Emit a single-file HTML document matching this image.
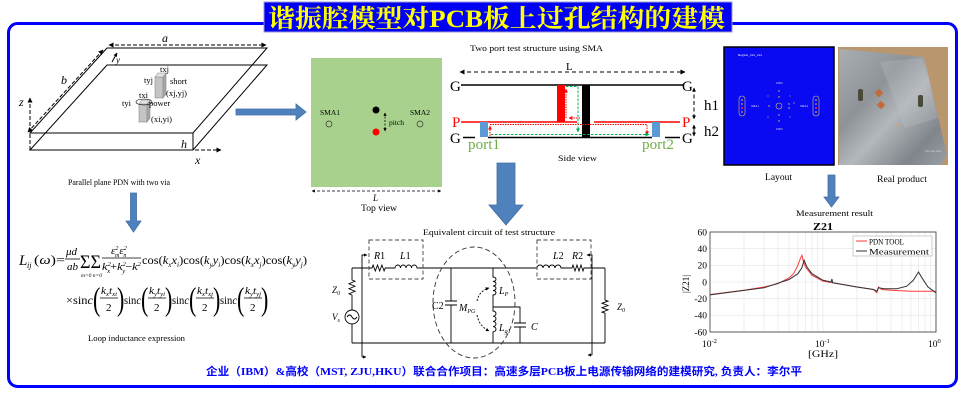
<!DOCTYPE html>
<html><head><meta charset="utf-8">
<style>
html,body{margin:0;padding:0;background:#fff;}
svg{display:block;}
</style></head><body>
<svg width="970" height="417" viewBox="0 0 970 417" xmlns="http://www.w3.org/2000/svg" font-family="'Liberation Serif', 'Noto Serif CJK SC', serif">
<defs>
<marker id="mk" viewBox="0 0 10 10" refX="9" refY="5" markerWidth="5" markerHeight="5" orient="auto-start-reverse"><path d="M0,0 L10,5 L0,10 z" fill="#000"/></marker>
<marker id="mks" viewBox="0 0 10 10" refX="9" refY="5" markerWidth="4" markerHeight="4" orient="auto-start-reverse"><path d="M0,0 L10,5 L0,10 z" fill="#000"/></marker>
<marker id="mr" viewBox="0 0 10 10" refX="9" refY="5" markerWidth="4" markerHeight="4" orient="auto-start-reverse"><path d="M0,0 L10,5 L0,10 z" fill="#ff0000"/></marker>
<marker id="mg" viewBox="0 0 10 10" refX="9" refY="5" markerWidth="4" markerHeight="4" orient="auto-start-reverse"><path d="M0,0 L10,5 L0,10 z" fill="#00b050"/></marker>
<linearGradient id="metal" x1="0" y1="0" x2="1" y2="1">
<stop offset="0" stop-color="#a9aeb2"/>
<stop offset="0.35" stop-color="#8e9398"/>
<stop offset="0.55" stop-color="#b4b8bc"/>
<stop offset="0.8" stop-color="#7f858b"/>
<stop offset="1" stop-color="#9a9fa4"/>
</linearGradient>
</defs>

<!-- outer border -->
<rect x="8.5" y="23.5" width="948" height="363" rx="9" fill="none" stroke="#0000ff" stroke-width="3"/>
<!-- title -->
<rect x="264" y="2" width="468" height="30" fill="#0000f5" stroke="#9a9ad8" stroke-width="1"/>
<text x="268" y="27" font-size="25" font-weight="bold" fill="#ffff00" textLength="457" lengthAdjust="spacingAndGlyphs" font-family="'Liberation Serif','Noto Serif CJK SC',serif">谐振腔模型对PCB板上过孔结构的建模</text>

<!-- ============ top-left 3D plates ============ -->
<g stroke="#000" stroke-width="1" fill="none">
<path d="M107,48 L267,48 L193,133 L30,133 Z"/>
<path d="M107,65 L267,65 L193,150 L30,150 Z"/>
<line x1="193" y1="133" x2="193" y2="150"/>
<line x1="109" y1="45" x2="266" y2="45" stroke-dasharray="4,2" marker-start="url(#mk)" marker-end="url(#mk)"/>
<line x1="103" y1="50" x2="28" y2="132" stroke-dasharray="4,2" marker-start="url(#mk)" marker-end="url(#mk)"/>
<line x1="30" y1="150" x2="30" y2="98" stroke-dasharray="4,2" marker-end="url(#mk)"/>
<line x1="195" y1="150" x2="221" y2="150" stroke-dasharray="4,2" marker-end="url(#mk)"/>
<line x1="112" y1="62" x2="117" y2="53" marker-end="url(#mks)"/>
</g>
<g font-style="italic" fill="#000">
<text x="162" y="42" font-size="12">a</text>
<text x="61" y="84" font-size="12">b</text>
<text x="116" y="63" font-size="9">y</text>
<text x="19" y="106" font-size="12">z</text>
<text x="195" y="164" font-size="12">x</text>
<text x="181" y="148" font-size="12">h</text>
</g>
<!-- vias -->
<g stroke="#8a8a8a" stroke-width="0.6">
<rect x="155" y="77" width="8" height="21" fill="#c4c4c4"/>
<path d="M163,77 L166,73 L166,94 L163,98 Z" fill="#a6a6a6"/>
<path d="M155,77 L158,73 L166,73 L163,77 Z" fill="#e2e2e2"/>
<rect x="139" y="104" width="8" height="18" fill="#c4c4c4"/>
<path d="M147,104 L150,100 L150,118 L147,122 Z" fill="#a6a6a6"/>
<path d="M139,104 L142,100 L150,100 L147,104 Z" fill="#e2e2e2"/>
</g>
<ellipse cx="144" cy="102" rx="8" ry="3" fill="none" stroke="#000" stroke-width="0.6"/>
<g font-size="8.5" fill="#000">
<text x="160" y="72">txj</text>
<text x="144" y="83">tyj</text>
<text x="170" y="84">short</text>
<text x="166" y="96">(xj,yj)</text>
<text x="139" y="98">txi</text>
<text x="122" y="106">tyi</text>
<text x="149" y="106">power</text>
<text x="151" y="122">(xi,yi)</text>
</g>
<text x="68" y="185" font-size="8.5" textLength="102" lengthAdjust="spacingAndGlyphs">Parallel plane PDN with two via</text>

<!-- blue arrows -->
<g fill="#4f81bd" stroke="#3f6ea5" stroke-width="0.8">
<path d="M236,109 L296,109 L296,104 L306,112 L296,120 L296,115 L236,115 Z"/>
<path d="M130.5,193 L136.5,193 L136.5,221 L141,221 L133.5,232 L126,221 L130.5,221 Z"/>
<path d="M497,163 L515,163 L515,205 L523,205 L506,225 L489,205 L497,205 Z"/>
<path d="M828,175 L835,175 L835,197 L839,197 L831.5,207 L824,197 L828,197 Z"/>
</g>

<!-- ============ top view ============ -->
<rect x="311" y="58" width="131" height="129" fill="#a9d18e"/>
<text x="320" y="115" font-size="7.5">SMA1</text>
<text x="410" y="115" font-size="7.5">SMA2</text>
<circle cx="329" cy="124" r="3" fill="none" stroke="#333" stroke-width="0.7"/>
<circle cx="420" cy="124" r="3" fill="none" stroke="#333" stroke-width="0.7"/>
<circle cx="376" cy="110" r="3.5" fill="#000"/>
<circle cx="376" cy="132" r="3.5" fill="#ff0000"/>
<line x1="385" y1="113" x2="385" y2="131" stroke="#000" stroke-width="0.8" stroke-dasharray="2,1.5" marker-start="url(#mks)" marker-end="url(#mks)"/>
<text x="389" y="125" font-size="7.5">pitch</text>
<line x1="312" y1="191" x2="441" y2="191" stroke="#000" stroke-width="0.8" stroke-dasharray="3,2" marker-start="url(#mks)" marker-end="url(#mks)"/>
<text x="373" y="201" font-size="9" font-style="italic">L</text>
<text x="361" y="211" font-size="9" textLength="36" lengthAdjust="spacingAndGlyphs">Top view</text>

<!-- ============ side view ============ -->
<text x="470" y="51" font-size="8.5" textLength="133" lengthAdjust="spacingAndGlyphs">Two port test structure using SMA</text>
<line x1="460" y1="72" x2="685" y2="72" stroke="#000" stroke-width="1" stroke-dasharray="4,3" marker-start="url(#mk)" marker-end="url(#mk)"/>
<text x="566" y="70" font-size="11">L</text>
<g stroke="#000" stroke-width="1.5">
<line x1="461" y1="85" x2="683" y2="85"/>
<line x1="463" y1="137.5" x2="475" y2="137.5"/>
<line x1="488" y1="137.5" x2="652" y2="137.5"/>
<line x1="665" y1="137.5" x2="680" y2="137.5"/>
</g>
<g stroke="#ff0000" stroke-width="1.5">
<line x1="461" y1="122" x2="577" y2="122"/>
<line x1="594" y1="122" x2="680" y2="122"/>
</g>
<rect x="557" y="85" width="8" height="37" fill="#ff0000"/>
<rect x="582" y="85" width="8" height="53" fill="#000"/>
<rect x="480" y="122" width="8" height="15" fill="#5b9bd5"/>
<rect x="652" y="122" width="8" height="15" fill="#5b9bd5"/>
<g fill="none" stroke-width="1">
<path d="M566,118 L566,89" stroke="#ff0000" stroke-dasharray="1.5,1" marker-end="url(#mr)"/>
<path d="M580,118 L569,118" stroke="#ff0000" stroke-dasharray="1.5,1" marker-end="url(#mr)"/>
<path d="M490,136 L490,126" stroke="#ff0000" stroke-dasharray="1.5,1" marker-end="url(#mr)"/>
<path d="M490,124.5 L647,124.5 L647,135" stroke="#ff0000" stroke-dasharray="1.5,1" marker-end="url(#mr)"/>
<path d="M566,86.5 L578,86.5 L578,132" stroke="#00b050" stroke-dasharray="2.5,1.5" marker-end="url(#mg)"/>
<path d="M491,134.5 L649,134.5" stroke="#00b050" stroke-dasharray="2.5,1.5" marker-end="url(#mg)"/>
</g>
<g font-size="15">
<text x="450" y="91">G</text>
<text x="452" y="127" fill="#ff0000">P</text>
<text x="450" y="143">G</text>
<text x="682" y="91">G</text>
<text x="682" y="127" fill="#ff0000">P</text>
<text x="682" y="143">G</text>
<text x="468" y="149" fill="#70ad47" textLength="32" lengthAdjust="spacingAndGlyphs">port1</text>
<text x="642" y="149" fill="#70ad47" textLength="32" lengthAdjust="spacingAndGlyphs">port2</text>
<text x="704" y="110">h1</text>
<text x="704" y="136">h2</text>
</g>
<line x1="694" y1="88" x2="694" y2="119" stroke="#000" stroke-width="1" stroke-dasharray="4,2.5" marker-start="url(#mks)" marker-end="url(#mks)"/>
<line x1="694" y1="125" x2="694" y2="136" stroke="#000" stroke-width="1" marker-start="url(#mks)" marker-end="url(#mks)"/>
<text x="558" y="161" font-size="8.5" textLength="39" lengthAdjust="spacingAndGlyphs">Side view</text>

<!-- ============ layout image ============ -->
<rect x="724" y="47" width="110" height="118" fill="#0a0af2" stroke="#000" stroke-width="1.5"/>
<text x="738" y="56" font-size="3.5" fill="#ffffff">Region_xxx_xxx</text>
<g fill="none" stroke="#d8c070" stroke-width="0.6">
<rect x="739" y="96" width="6" height="20" rx="3"/>
<rect x="813" y="96" width="6" height="20" rx="3"/>
<circle cx="779" cy="106" r="3"/>
</g>
<g fill="#e8d060">
<circle cx="742" cy="100" r="0.8"/><circle cx="742" cy="104" r="0.8"/><circle cx="742" cy="112" r="0.8"/>
<circle cx="816" cy="100" r="0.8"/><circle cx="816" cy="104" r="0.8"/><circle cx="816" cy="112" r="0.8"/>
<circle cx="779" cy="91" r="0.7"/><circle cx="779" cy="97" r="0.7"/><circle cx="779" cy="115" r="0.7"/><circle cx="779" cy="121" r="0.7"/>
<circle cx="769" cy="106" r="0.7"/><circle cx="789" cy="104" r="0.7"/><circle cx="789" cy="108" r="0.7"/><circle cx="794" cy="103" r="0.6"/>
<circle cx="768" cy="96" r="0.5"/><circle cx="790" cy="96" r="0.5"/><circle cx="768" cy="117" r="0.5"/><circle cx="790" cy="117" r="0.5"/>
</g>
<circle cx="742" cy="108" r="1" fill="#ff3030"/>
<circle cx="816" cy="108" r="1" fill="#ff3030"/>
<g font-size="3" fill="#e0e0ff">
<text x="776" y="84">GND</text><text x="776" y="130">GND</text>
<text x="751" y="107">SMA1</text><text x="800" y="107">SMA2</text>
</g>

<!-- ============ real product photo ============ -->
<rect x="838" y="47" width="110" height="118" fill="#b8976f"/>
<path d="M839,49 L924,57 L947,155 L941,165 L839,165 Z" fill="url(#metal)"/>
<path d="M880,62 L922,58 L938,118 L905,128 Z" fill="#c4c8cb" opacity="0.25"/>
<rect x="858" y="89" width="5" height="12" rx="2" fill="#4a4a3a"/>
<rect x="918" y="95" width="5" height="12" rx="2" fill="#4a4a3a"/>
<rect x="876" y="90" width="6" height="6" fill="#c46a3a" transform="rotate(45 879 93)"/>
<rect x="878" y="102" width="6" height="6" fill="#c46a3a" transform="rotate(45 881 105)"/>
<circle cx="898" cy="125" r="1.5" fill="#c9a080"/>
<text x="925" y="152" font-size="3" fill="#dde">xxx xxx xxxx</text>
<text x="765" y="180" font-size="9" textLength="27" lengthAdjust="spacingAndGlyphs">Layout</text>
<text x="877" y="182" font-size="9" textLength="50" lengthAdjust="spacingAndGlyphs">Real product</text>
<text x="796" y="216" font-size="8.5" textLength="77" lengthAdjust="spacingAndGlyphs">Measurement result</text>

<!-- ============ chart ============ -->
<text x="813" y="230" font-size="10" font-weight="bold" textLength="20" lengthAdjust="spacingAndGlyphs">Z21</text>
<g stroke="#e4e4e4" stroke-width="0.6">
<line x1="744" y1="232" x2="744" y2="332"/><line x1="763.9" y1="232" x2="763.9" y2="332"/><line x1="778" y1="232" x2="778" y2="332"/><line x1="789" y1="232" x2="789" y2="332"/><line x1="797.9" y1="232" x2="797.9" y2="332"/><line x1="805.5" y1="232" x2="805.5" y2="332"/><line x1="812" y1="232" x2="812" y2="332"/><line x1="817.8" y1="232" x2="817.8" y2="332"/>
<line x1="823" y1="232" x2="823" y2="332"/>
<line x1="857" y1="232" x2="857" y2="332"/><line x1="876.9" y1="232" x2="876.9" y2="332"/><line x1="891" y1="232" x2="891" y2="332"/><line x1="902" y1="232" x2="902" y2="332"/><line x1="910.9" y1="232" x2="910.9" y2="332"/><line x1="918.5" y1="232" x2="918.5" y2="332"/><line x1="925" y1="232" x2="925" y2="332"/><line x1="930.8" y1="232" x2="930.8" y2="332"/>
<line x1="710" y1="248.7" x2="936" y2="248.7"/><line x1="710" y1="265.3" x2="936" y2="265.3"/><line x1="710" y1="282" x2="936" y2="282"/><line x1="710" y1="298.7" x2="936" y2="298.7"/><line x1="710" y1="315.3" x2="936" y2="315.3"/>
</g>
<rect x="710" y="232" width="226" height="100" fill="none" stroke="#333" stroke-width="0.8"/>
<polyline fill="none" stroke="#ff3b3b" stroke-width="1" points="710,294.5 744,290.3 764,287 778,283.7 789,277.8 793.6,273.7 797.9,265.3 800.3,258.7 801.9,255.3 803.3,261.2 805.5,267 812,275.3 823,281.2 842.9,284.5 857,287 873.5,289.5 876.9,292.8 878.5,287 881.6,289.5 891,290.3 910.9,291.2 936,291.2"/>
<polyline fill="none" stroke="#333" stroke-width="1" points="710,294.9 764,287.8 789,279.5 797.9,273.7 801.9,267.8 804.1,260.3 806.9,267 812,273.7 823,280.3 831.1,282 831.9,279 832.7,282.8 842.9,284.5 857,287 873.5,289.5 876.9,291.2 878.5,287.8 884.5,288.7 896.8,288.7 906.7,286.2 913.3,280.3 918.5,272 921.9,277.8 928,287 936,292.8"/>
<rect x="853" y="236" width="79" height="20" fill="#fff" stroke="#999" stroke-width="0.5"/>
<line x1="856" y1="241" x2="867" y2="241" stroke="#ff3b3b" stroke-width="1"/>
<line x1="856" y1="251" x2="867" y2="251" stroke="#333" stroke-width="1"/>
<text x="869" y="244.5" font-size="8.5" textLength="35" lengthAdjust="spacingAndGlyphs">PDN TOOL</text>
<text x="869" y="254.5" font-size="8.5" textLength="60" lengthAdjust="spacingAndGlyphs">Measurement</text>
<g font-size="9.5" text-anchor="end">
<text x="707" y="235.5">60</text><text x="707" y="252">40</text><text x="707" y="268.5">20</text><text x="707" y="285.5">0</text><text x="707" y="302">-20</text><text x="707" y="318.5">-40</text><text x="707" y="335.5">-60</text>
</g>
<g font-size="9.5">
<text x="702" y="347">10<tspan font-size="6.5" dy="-4">-2</tspan></text>
<text x="815" y="347">10<tspan font-size="6.5" dy="-4">-1</tspan></text>
<text x="928" y="347">10<tspan font-size="6.5" dy="-4">0</tspan></text>
</g>
<text x="808" y="357" font-size="9.5" textLength="30" lengthAdjust="spacingAndGlyphs">[GHz]</text>
<text x="0" y="0" font-size="9" transform="translate(689,293) rotate(-90)">|Z21|</text>

<!-- ============ formula ============ -->
<g fill="#000">
<text x="19" y="265" font-size="15" font-style="italic">L</text>
<text x="27" y="268" font-size="8" font-style="italic">ij</text>
<text x="34" y="264" font-size="13" textLength="31" lengthAdjust="spacingAndGlyphs">(<tspan font-style="italic">ω</tspan>)=</text>
<text x="66" y="255" font-size="11" font-style="italic">μd</text>
<line x1="65" y1="259" x2="80" y2="259" stroke="#000" stroke-width="0.8"/>
<text x="67" y="270" font-size="11" font-style="italic">ab</text>
<text x="80" y="268" font-size="19" textLength="21" lengthAdjust="spacingAndGlyphs">ΣΣ</text>
<text x="81" y="277" font-size="5.5" font-style="italic" textLength="21" lengthAdjust="spacingAndGlyphs">m=0 n=0</text>
<text x="111" y="254" font-size="11" font-style="italic">ε<tspan font-size="6" dy="-4">2</tspan><tspan font-size="6" dx="-3.3" dy="7">m</tspan><tspan dy="-3">ε</tspan><tspan font-size="6" dy="-4">2</tspan><tspan font-size="6" dx="-3.3" dy="7">n</tspan></text>
<line x1="102" y1="258" x2="141" y2="258" stroke="#000" stroke-width="0.8"/>
<text x="102" y="270" font-size="11" font-style="italic" textLength="39" lengthAdjust="spacingAndGlyphs">k<tspan font-size="6" dy="-4">2</tspan><tspan font-size="6" dx="-3.3" dy="7">x</tspan><tspan font-style="normal" dy="-3">+</tspan>k<tspan font-size="6" dy="-4">2</tspan><tspan font-size="6" dx="-3.3" dy="7">y</tspan><tspan font-style="normal" dy="-3">−</tspan>k<tspan font-size="6" dy="-4">2</tspan></text>
<text x="142" y="264" font-size="12" textLength="165" lengthAdjust="spacingAndGlyphs">cos(<tspan font-style="italic">k</tspan><tspan font-size="7" dy="3" font-style="italic">x</tspan><tspan dy="-3" font-style="italic">x</tspan><tspan font-size="7" dy="3" font-style="italic">i</tspan><tspan dy="-3">)cos(</tspan><tspan font-style="italic">k</tspan><tspan font-size="7" dy="3" font-style="italic">y</tspan><tspan dy="-3" font-style="italic">y</tspan><tspan font-size="7" dy="3" font-style="italic">i</tspan><tspan dy="-3">)cos(</tspan><tspan font-style="italic">k</tspan><tspan font-size="7" dy="3" font-style="italic">x</tspan><tspan dy="-3" font-style="italic">x</tspan><tspan font-size="7" dy="3" font-style="italic">j</tspan><tspan dy="-3">)cos(</tspan><tspan font-style="italic">k</tspan><tspan font-size="7" dy="3" font-style="italic">y</tspan><tspan dy="-3" font-style="italic">y</tspan><tspan font-size="7" dy="3" font-style="italic">j</tspan><tspan dy="-3">)</tspan></text>

<text x="66" y="304" font-size="12" textLength="27" lengthAdjust="spacingAndGlyphs">×sin<tspan font-style="italic">c</tspan></text>
<text x="124" y="304" font-size="12" textLength="17" lengthAdjust="spacingAndGlyphs">sin<tspan font-style="italic">c</tspan></text>
<text x="172" y="304" font-size="12" textLength="17" lengthAdjust="spacingAndGlyphs">sin<tspan font-style="italic">c</tspan></text>
<text x="220" y="304" font-size="12" textLength="17" lengthAdjust="spacingAndGlyphs">sin<tspan font-style="italic">c</tspan></text>

<g font-size="22">
<text transform="translate(93,310) scale(1,1.5)">(</text><text transform="translate(117,310) scale(1,1.5)">)</text>
<text transform="translate(141,310) scale(1,1.5)">(</text><text transform="translate(165,310) scale(1,1.5)">)</text>
<text transform="translate(189,310) scale(1,1.5)">(</text><text transform="translate(213,310) scale(1,1.5)">)</text>
<text transform="translate(237,310) scale(1,1.5)">(</text><text transform="translate(261,310) scale(1,1.5)">)</text>
</g>
<g font-size="10" font-style="italic">
<text x="101" y="294" textLength="16" lengthAdjust="spacingAndGlyphs">k<tspan font-size="6" dy="2">x</tspan><tspan dy="-2">t</tspan><tspan font-size="6" dy="2">xi</tspan></text>
<text x="149" y="294" textLength="16" lengthAdjust="spacingAndGlyphs">k<tspan font-size="6" dy="2">y</tspan><tspan dy="-2">t</tspan><tspan font-size="6" dy="2">yi</tspan></text>
<text x="197" y="294" textLength="16" lengthAdjust="spacingAndGlyphs">k<tspan font-size="6" dy="2">x</tspan><tspan dy="-2">t</tspan><tspan font-size="6" dy="2">xj</tspan></text>
<text x="245" y="294" textLength="16" lengthAdjust="spacingAndGlyphs">k<tspan font-size="6" dy="2">y</tspan><tspan dy="-2">t</tspan><tspan font-size="6" dy="2">yj</tspan></text>
</g>
<g stroke="#000" stroke-width="0.8">
<line x1="100" y1="298" x2="118" y2="298"/><line x1="148" y1="298" x2="166" y2="298"/><line x1="196" y1="298" x2="214" y2="298"/><line x1="244" y1="298" x2="262" y2="298"/>
</g>
<g font-size="11">
<text x="106" y="311">2</text><text x="154" y="311">2</text><text x="202" y="311">2</text><text x="250" y="311">2</text>
</g>
</g>
<text x="88" y="341" font-size="8.5" textLength="97" lengthAdjust="spacingAndGlyphs">Loop inductance expression</text>

<!-- ============ circuit ============ -->
<text x="423" y="235" font-size="8.5" textLength="132" lengthAdjust="spacingAndGlyphs">Equivalent circuit of test structure</text>
<g fill="none" stroke="#000" stroke-width="0.9">
<path d="M352,268 L372,268 l1.1,-3 l2.2,6 l2.2,-6 l2.2,6 l2.2,-6 l2.2,6 l1.1,-3 L395,268 a2.75,3 0 0 1 5.5,0 a2.75,3 0 0 1 5.5,0 a2.75,3 0 0 1 5.5,0 a2.75,3 0 0 1 5.5,0 L537,268 a3,3 0 0 1 6,0 a3,3 0 0 1 6,0 a3,3 0 0 1 6,0 a3,3 0 0 1 6,0 L572,268 l1,-3 l2,6 l2,-6 l2,6 l2,-6 l2,6 l1,-3 L605,268"/>
<path d="M352,343 L605,343"/>
<path d="M352,268 L352,280 l3,1.25 l-6,2.5 l6,2.5 l-6,2.5 l6,2.5 l-6,2.5 l3,1.25 L352,310"/>
<circle cx="352" cy="317" r="7"/>
<path d="M347,317 q2.5,-4 5,0 t5,0"/>
<path d="M352,324 L352,343"/>
<path d="M605,268 L605,300 l3,1.1 l-6,2.2 l6,2.2 l-6,2.2 l6,2.2 l-6,2.2 l3,1.1 L605,343"/>
<path d="M451,268 L451,301 M445,301 L457,301 M445,305 L457,305 M451,305 L451,343"/>
<path d="M493,268 L493,277 a3,2.25 0 0 1 0,4.5 a3,2.25 0 0 1 0,4.5 a3,2.25 0 0 1 0,4.5 a3,2.25 0 0 1 0,4.5 L493,311 a3,2.6 0 0 1 0,5.2 a3,2.6 0 0 1 0,5.2 a3,2.6 0 0 1 0,5.2 a3,2.6 0 0 1 0,5.2 L493,343"/>
<path d="M493,307 L520,307 L520,323 M514,323 L526,323 M514,327 L526,327 M520,327 L520,343"/>
<path d="M362,357 L362,255 L367,255" marker-end="url(#mks)"/>
<path d="M362,357 L366,357" marker-end="url(#mks)"/>
<path d="M592,355 L592,255 L587,255" marker-end="url(#mks)"/>
<path d="M592,355 L588,355" marker-end="url(#mks)"/>
<rect x="369" y="240" width="54" height="39" stroke-dasharray="4,2.5" stroke="#444"/>
<rect x="537" y="240" width="54" height="39" stroke-dasharray="4,2.5" stroke="#444"/>
<ellipse cx="474" cy="302.5" rx="41" ry="55.5" stroke-dasharray="5,3" stroke="#333"/>
<path d="M477,301 Q479,291 489,288" stroke-dasharray="2,1.5" marker-end="url(#mks)"/>
<path d="M477,315 Q479,326 489,331" stroke-dasharray="2,1.5" marker-end="url(#mks)"/>
</g>
<g font-size="10" fill="#000">
<text x="374" y="259"><tspan font-style="italic">R</tspan>1</text>
<text x="400" y="259"><tspan font-style="italic">L</tspan>1</text>
<text x="553" y="259"><tspan font-style="italic">L</tspan>2</text>
<text x="572" y="259"><tspan font-style="italic">R</tspan>2</text>
<text x="432" y="309">C2</text>
<text x="531" y="330" font-style="italic">C</text>
<text x="499" y="294" font-style="italic">L<tspan font-size="6" dy="2">P</tspan></text>
<text x="499" y="331" font-style="italic">L<tspan font-size="6" dy="2">g1</tspan></text>
<text x="459" y="311" font-style="italic">M<tspan font-size="6" dy="2">PG</tspan></text>
<text x="332" y="293" font-style="italic" font-size="9">Z<tspan font-size="6" dy="2">0</tspan></text>
<text x="332" y="320" font-style="italic" font-size="9">V<tspan font-size="6" dy="2">s</tspan></text>
<text x="617" y="310" font-style="italic" font-size="9">Z<tspan font-size="6" dy="2">0</tspan></text>
</g>

<!-- footer -->
<text x="206" y="375" font-size="11" font-weight="bold" fill="#0000ff" textLength="596" lengthAdjust="spacingAndGlyphs" font-family="'Liberation Serif','Noto Sans CJK SC',sans-serif">企业（IBM）&amp;高校（MST, ZJU,HKU）联合合作项目：高速多层PCB板上电源传输网络的建模研究, 负责人：李尔平</text>
</svg>
</body></html>
